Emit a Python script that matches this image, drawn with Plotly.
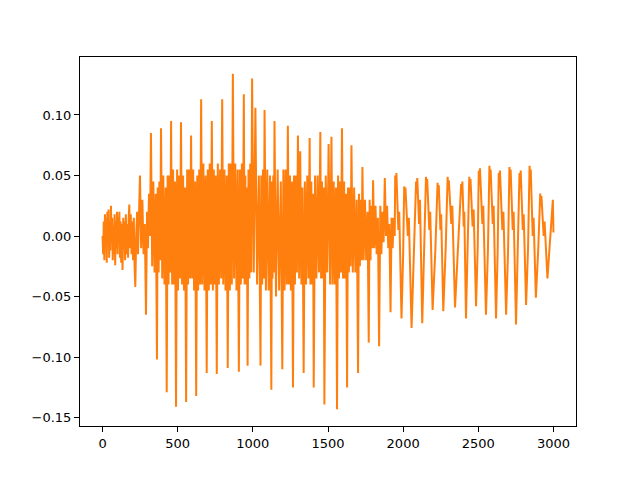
import plotly.graph_objects as go

# ---- Waveform (sample index, amplitude) ----
# Quiet onset, samples 0-242
onset_samples = [
    0, 4, 8, 12, 16, 20, 24, 28, 32, 36,
    40, 44, 48, 52, 56, 60, 64, 68, 72, 76,
    80, 84, 88, 92, 96, 100, 104, 108, 112, 116,
    120, 124, 128, 133, 138, 142, 146, 150, 155, 160,
    165, 170, 174, 178, 183, 188, 193, 198, 203, 208,
    213, 218, 224, 230, 236, 242,
]
onset_amp = [
    0.000, -0.015, 0.012, -0.020, 0.018, -0.008, 0.015, -0.022, 0.020, 0.005,
    0.022, -0.018, 0.010, -0.012, 0.025, -0.005, 0.015, -0.020, 0.008, -0.015,
    0.018, -0.024, 0.012, -0.010, 0.020, -0.015, 0.016, 0.000, 0.020, -0.018,
    0.012, -0.022, 0.010, -0.028, 0.015, -0.010, 0.012, -0.020, 0.018, -0.015,
    0.010, -0.018, 0.015, 0.026, -0.010, 0.018, -0.015, 0.012, -0.020, 0.015,
    -0.025, -0.042, 0.000, 0.020, -0.015, 0.010,
]

# Loud section, samples 249-1944 (one row per cycle)
loud_samples = [
    249, 257, 265, 273, 281, 289, 296, 302, 309, 316,
    322, 330, 338, 346, 354, 362, 367, 373, 378, 384,
    389, 397, 404, 412, 420, 427, 433, 439, 444, 450,
    456, 463, 469, 476, 482, 489, 496, 502, 509, 515,
    522, 529, 536, 542, 549, 556, 563, 569, 576, 582,
    589, 596, 603, 609, 616, 623, 630, 636, 643, 649,
    656, 663, 671, 678, 686, 693, 700, 707, 713, 720,
    727, 734, 740, 747, 753, 760, 767, 774, 782, 789,
    796, 803, 811, 818, 826, 833, 840, 847, 853, 860,
    867, 875, 883, 891, 899, 907, 914, 920, 927, 933,
    940, 945, 950, 955, 960, 965, 971, 977, 983, 989,
    995, 1006, 1017, 1028, 1040, 1051, 1056, 1062, 1067, 1073,
    1078, 1087, 1096, 1105, 1114, 1123, 1127, 1131, 1136, 1140,
    1144, 1154, 1165, 1175, 1186, 1196, 1203, 1211, 1218, 1226,
    1233, 1240, 1247, 1253, 1260, 1267, 1274, 1280, 1287, 1293,
    1300, 1308, 1315, 1323, 1330, 1338, 1346, 1354, 1362, 1370,
    1378, 1383, 1389, 1394, 1400, 1405, 1414, 1423, 1431, 1440,
    1449, 1454, 1460, 1465, 1471, 1476, 1485, 1495, 1504, 1514,
    1523, 1530, 1538, 1545, 1553, 1560, 1567, 1573, 1580, 1586,
    1593, 1600, 1607, 1613, 1620, 1627, 1633, 1639, 1644, 1650,
    1656, 1665, 1674, 1682, 1691, 1700, 1706, 1712, 1717, 1723,
    1729, 1737, 1746, 1754, 1763, 1771, 1777, 1783, 1788, 1794,
    1800, 1808, 1816, 1824, 1832, 1840, 1848, 1855, 1863, 1870,
    1878, 1886, 1893, 1901, 1908, 1916, 1923, 1930, 1937, 1944,
]
loud_amp = [
    0.050, -0.010, 0.030, -0.015, 0.010, -0.065, 0.020, -0.010, 0.035, 0.000,
    0.085, -0.025, 0.045, -0.030, 0.035, -0.102, 0.040, -0.030, 0.045, -0.020,
    0.089, -0.035, 0.050, -0.040, 0.040, -0.129, 0.050, -0.040, 0.050, -0.030,
    0.095, -0.040, 0.055, -0.040, 0.045, -0.141, 0.055, -0.045, 0.050, -0.035,
    0.094, -0.040, 0.050, -0.045, 0.040, -0.137, 0.055, -0.040, 0.055, -0.035,
    0.083, -0.035, 0.055, -0.045, 0.045, -0.132, 0.050, -0.045, 0.055, -0.040,
    0.113, -0.040, 0.060, -0.045, 0.050, -0.113, 0.055, -0.045, 0.060, -0.040,
    0.095, -0.045, 0.055, -0.040, 0.050, -0.114, 0.060, -0.040, 0.055, -0.035,
    0.113, -0.040, 0.055, -0.045, 0.050, -0.109, 0.060, -0.045, 0.060, -0.040,
    0.134, -0.035, 0.060, -0.045, 0.055, -0.112, 0.055, -0.040, 0.060, -0.035,
    0.117, -0.040, 0.050, -0.040, 0.040, -0.107, 0.055, -0.035, 0.060, -0.030,
    0.130, -0.030, 0.106, -0.040, 0.050, -0.107, 0.050, -0.040, 0.055, -0.035,
    0.104, -0.045, 0.055, -0.045, 0.050, -0.127, 0.045, -0.035, 0.050, -0.030,
    0.095, -0.050, 0.055, -0.045, 0.045, -0.110, 0.055, -0.045, 0.055, -0.040,
    0.091, -0.040, 0.050, -0.045, 0.045, -0.125, 0.050, -0.040, 0.050, -0.030,
    0.083, -0.035, 0.070, -0.040, 0.040, -0.113, 0.045, -0.040, 0.050, -0.035,
    0.081, -0.040, 0.045, -0.040, 0.035, -0.125, 0.050, -0.035, 0.050, -0.030,
    0.086, -0.035, 0.045, -0.035, 0.040, -0.139, 0.050, -0.030, 0.076, -0.040,
    0.082, -0.040, 0.045, -0.040, 0.040, -0.143, 0.050, -0.035, 0.045, -0.030,
    0.089, -0.035, 0.045, -0.035, 0.035, -0.125, 0.040, -0.030, 0.040, -0.025,
    0.075, -0.030, 0.040, -0.030, 0.030, -0.113, 0.035, -0.025, 0.030, -0.020,
    0.057, -0.020, 0.030, -0.020, 0.020, -0.088, 0.030, -0.020, 0.025, -0.010,
    0.046, -0.010, 0.025, -0.015, 0.015, -0.091, 0.025, -0.015, 0.020, -0.005,
    0.048, 0.000, 0.025, -0.010, 0.010, -0.063, 0.015, -0.010, 0.015, 0.000,
]

# Steady tail, samples 1947-3000 (one row per cycle)
tail_samples = [
    1947, 1951, 1955, 1968, 1974, 1989, 2000,
    2007, 2011, 2015, 2031, 2038, 2056, 2073,
    2086, 2090, 2094, 2106, 2112, 2127, 2141,
    2152, 2156, 2160, 2174, 2180, 2196, 2214,
    2229, 2233, 2237, 2248, 2253, 2267, 2283,
    2296, 2300, 2304, 2320, 2327, 2345, 2367,
    2386, 2390, 2394, 2403, 2407, 2418, 2431,
    2440, 2444, 2448, 2462, 2469, 2485, 2496,
    2503, 2507, 2511, 2527, 2533, 2551, 2564,
    2574, 2578, 2582, 2596, 2602, 2618, 2629,
    2636, 2640, 2644, 2660, 2667, 2685, 2698,
    2707, 2711, 2715, 2729, 2735, 2751, 2764,
    2774, 2778, 2782, 2796, 2802, 2818, 2831,
    2841, 2845, 2849, 2862, 2868, 2883, 2899,
    2912, 2916, 2920, 2935, 2941, 2960, 2978,
    2996, 3000,
]
tail_amp = [
    0.050, 0.038, 0.052, 0.005, 0.020, -0.068, -0.015,
    0.041, 0.030, 0.040, 0.000, 0.015, -0.076, -0.010,
    0.045, 0.035, 0.048, 0.010, 0.030, -0.072, -0.010,
    0.049, 0.038, 0.047, 0.005, 0.020, -0.061, -0.012,
    0.044, 0.032, 0.042, 0.005, 0.018, -0.062, -0.010,
    0.049, 0.038, 0.046, 0.010, 0.025, -0.059, -0.010,
    0.043, 0.035, 0.045, 0.008, 0.020, -0.068, -0.010,
    0.049, 0.038, 0.047, 0.008, 0.022, -0.058, -0.010,
    0.054, 0.042, 0.056, 0.010, 0.025, -0.065, -0.012,
    0.058, 0.045, 0.055, 0.010, 0.025, -0.068, -0.012,
    0.052, 0.040, 0.054, 0.005, 0.020, -0.065, -0.012,
    0.057, 0.045, 0.055, 0.005, 0.020, -0.073, -0.012,
    0.052, 0.040, 0.054, 0.005, 0.018, -0.057, -0.010,
    0.058, 0.045, 0.055, 0.000, 0.015, -0.051, -0.010,
    0.035, 0.025, 0.033, 0.000, 0.012, -0.035, -0.005,
    0.030, 0.003,
]

x_ticks = [0, 500, 1000, 1500, 2000, 2500, 3000]
y_ticks = [-0.15, -0.10, -0.05, 0.00, 0.05, 0.10]

assert len(onset_samples) == len(onset_amp)
assert len(loud_samples) == len(loud_amp)
assert len(tail_samples) == len(tail_amp)

samples = onset_samples + loud_samples + tail_samples
amplitude = onset_amp + loud_amp + tail_amp

fig = go.Figure()
fig.add_trace(go.Scatter(
    x=samples, y=amplitude, mode="lines",
    line=dict(color="#ff7f0e", width=2),
    showlegend=False, hoverinfo="skip",
))

xmin, xmax = min(samples), max(samples)
ymin, ymax = min(amplitude), max(amplitude)
xpad = 0.05 * (xmax - xmin)
ypad = 0.05 * (ymax - ymin)

axis_common = dict(
    showline=True, linecolor="black", linewidth=1, mirror=True,
    ticks="outside", ticklen=5, tickwidth=1, tickcolor="black",
    showgrid=False, zeroline=False,
    tickfont=dict(family="DejaVu Sans", size=13, color="black"),
)

fig.update_layout(
    width=640, height=480,
    margin=dict(l=72, r=72, t=49, b=62),
    paper_bgcolor="white", plot_bgcolor="white",
    xaxis=dict(range=[xmin - xpad, xmax + xpad], tickvals=x_ticks,
               ticktext=[str(v) for v in x_ticks], **axis_common),
    yaxis=dict(range=[ymin - ypad, ymax + ypad], tickvals=y_ticks,
               tickformat=".2f", **axis_common),
)

fig.write_html("out.html")
